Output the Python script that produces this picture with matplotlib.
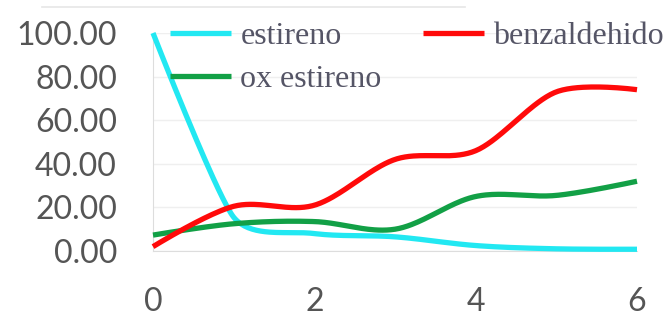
import numpy as np
import matplotlib
matplotlib.use("Agg")
from matplotlib import pyplot as plt
from matplotlib.lines import Line2D

# values
tiempo = [0, 1, 2, 3, 4, 5, 6]
estireno = [100.0, 15.5, 8.0, 6.5, 2.5, 1.0, 0.8]
benzaldehido = [2.0, 20.5, 21.0, 42.0, 46.0, 73.0, 74.0]
ox_estireno = [7.3, 12.5, 13.5, 10.0, 25.0, 25.5, 32.0]

# pixels per data unit, so the smoothing is done in screen space like Excel
SX, SY = 80.7, 2.18


def smooth(x, y, n=40):
    """Excel style smoothed line: bezier through every point, the control
    arm at a point is a third of its shorter neighbouring segment."""
    p = np.column_stack([np.asarray(x, float) * SX, np.asarray(y, float) * SY])
    out = []
    for i in range(len(p) - 1):
        i0 = max(i - 1, 0)
        i3 = min(i + 2, len(p) - 1)
        d01 = np.linalg.norm(p[i] - p[i0])
        d12 = np.linalg.norm(p[i + 1] - p[i])
        d23 = np.linalg.norm(p[i3] - p[i + 1])
        t1 = p[i + 1] - p[i0]
        t2 = p[i3] - p[i]
        c1 = p[i] + t1 / np.linalg.norm(t1) * min(d01, d12) / 3
        c2 = p[i + 1] - t2 / np.linalg.norm(t2) * min(d12, d23) / 3
        t = np.linspace(0, 1, n)[:, None]
        b = (1-t)**3*p[i] + 3*(1-t)**2*t*c1 + 3*(1-t)*t**2*c2 + t**3*p[i+1]
        out.append(b)
    out = np.vstack(out)
    return out[:, 0] / SX, out[:, 1] / SY


fig = plt.figure(figsize=(6.65, 3.25), dpi=100)
ax = fig.add_axes([153/665, 1 - 251/325, (637-153)/665, (251-33)/325])

# faint border line at the top of the original chart area
fig.add_artist(Line2D([42/665, 465/665], [1 - 7/325, 1 - 7/325], color="#e6e6e6", lw=1.2))

lw = 3.8
h1, = ax.plot(*smooth(tiempo, estireno), color="#22E8F2", lw=lw, solid_capstyle="butt", zorder=3, clip_on=False)
h3, = ax.plot(*smooth(tiempo, ox_estireno), color="#12A046", lw=lw, solid_capstyle="butt", zorder=4, clip_on=False)
h2, = ax.plot(*smooth(tiempo, benzaldehido), color="#FF0A0A", lw=lw, solid_capstyle="butt", zorder=5, clip_on=False)

ax.set_xlim(0, 6)
ax.set_ylim(0, 100)
ax.set_xticks([0, 2, 4, 6])
ax.set_yticks([0, 20, 40, 60, 80, 100])
ax.yaxis.set_major_formatter(matplotlib.ticker.FormatStrFormatter("%.2f"))
ax.tick_params(length=0, labelsize=23, colors="#555555", labelfontfamily="Lato")
ax.tick_params(axis="x", pad=26)
ax.tick_params(axis="y", pad=26)
ax.grid(axis="y", color="#efefef", lw=1)
ax.set_axisbelow(True)
for s in ["top", "right"]:
    ax.spines[s].set_visible(False)
for s in ["left", "bottom"]:
    ax.spines[s].set_color("#dddddd")

fig.legend([h1, h3, h2], ["estireno", "ox estireno", "benzaldehido"],
           ncol=2, loc="upper left", bbox_to_anchor=(170/665, 1 - 22/325),
           frameon=False, borderpad=0, borderaxespad=0,
           handlelength=1.9, handletextpad=0.3, columnspacing=1.3,
           labelspacing=0.42, labelcolor="#555566",
           prop={"family": "Liberation Serif", "size": 23})

fig.savefig("out.png", dpi=100)
